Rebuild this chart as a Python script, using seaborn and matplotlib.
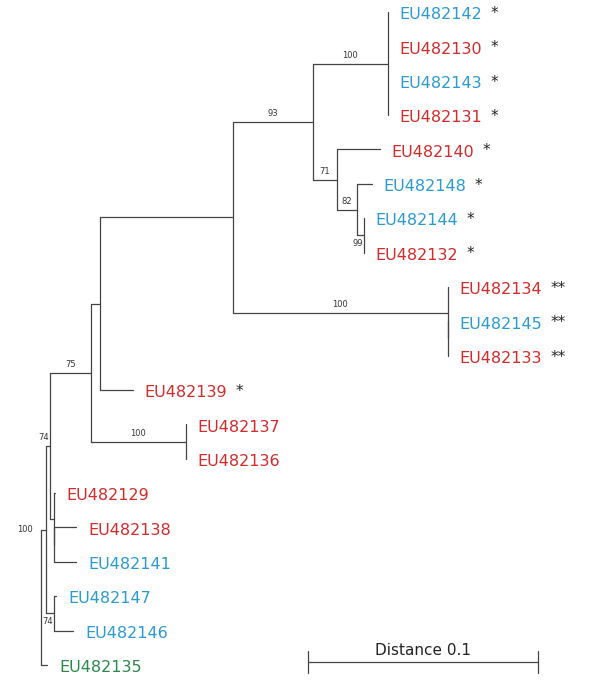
import pandas as pd
import numpy as np
import matplotlib
matplotlib.use("Agg")
from matplotlib import pyplot as plt
import seaborn as sns

# tree: every node with its parent and branch length (distance units)
node_names = ["R", "L", "J", "I", "H", "F", "E", "A",
              "EU482142", "EU482130", "EU482143", "EU482131",
              "B", "EU482140", "C", "EU482148", "D", "EU482144", "EU482132",
              "G", "EU482134", "G2", "EU482145", "EU482133",
              "EU482139", "N", "EU482137", "EU482136",
              "K", "EU482129", "K2", "EU482138", "EU482141",
              "M", "EU482147", "EU482146", "EU482135"]
node_parents = [None, "R", "L", "J", "I", "H", "F", "E",
                "A", "A", "A", "A",
                "E", "B", "B", "C", "C", "D", "D",
                "F", "G", "G", "G2", "G2",
                "H", "I", "N", "N",
                "J", "K", "K", "K2", "K2",
                "L", "M", "M", "R"]
branch_lengths = [0.0, 0.0022, 0.0017, 0.0178, 0.0039, 0.0578, 0.0348, 0.0326,
                  0.0, 0.0, 0.0, 0.0,
                  0.0104, 0.0187, 0.0087, 0.0065, 0.0030, 0.0, 0.0,
                  0.0935, 0.0, 0.0, 0.0, 0.0,
                  0.0143, 0.0413, 0.0, 0.0,
                  0.0017, 0.0004, 0.0, 0.0096, 0.0096,
                  0.0035, 0.0009, 0.0083, 0.0026]

# bootstrap support of internal nodes
support_nodes = ["A", "B", "C", "D", "G", "E", "N", "I", "J", "L", "M"]
support_values = [100, 71, 82, 99, 100, 93, 100, 75, 74, 100, 74]

# leaf groups and marks
leaf_names = ["EU482142", "EU482130", "EU482143", "EU482131", "EU482140",
              "EU482148", "EU482144", "EU482132", "EU482134", "EU482145",
              "EU482133", "EU482139", "EU482137", "EU482136", "EU482129",
              "EU482138", "EU482141", "EU482147", "EU482146", "EU482135"]
leaf_groups = ["blue", "red", "blue", "red", "red",
               "blue", "blue", "red", "red", "blue",
               "red", "red", "red", "red", "red",
               "red", "blue", "blue", "blue", "green"]
leaf_marks = ["*", "*", "*", "*", "*", "*", "*", "*", "**", "**",
              "**", "*", "", "", "", "", "", "", "", ""]

scale_length = 0.1
scale_label = "Distance 0.1"

group_colors = {"red": "#d42a2a", "blue": "#2a9ad4", "green": "#2a8a4a"}

# layout
children = {n: [] for n in node_names}
parent_of = dict(zip(node_names, node_parents))
blen = dict(zip(node_names, branch_lengths))
for n, p in zip(node_names, node_parents):
    if p is not None:
        children[p].append(n)

xpos, ypos = {}, {}
leaf_counter = [0]


def place(n, x0):
    xpos[n] = x0 + blen[n]
    if not children[n]:
        ypos[n] = leaf_counter[0]
        leaf_counter[0] += 1
        return
    for c in children[n]:
        place(c, xpos[n])
    ypos[n] = (ypos[children[n][0]] + ypos[children[n][-1]]) / 2


place("R", 0.0)

rows = []
seg = 0
for n in node_names:
    p = parent_of[n]
    if p is not None:
        rows += [(xpos[p], ypos[n], seg), (xpos[n], ypos[n], seg)]
        seg += 1
    if children[n]:
        c0, c1 = children[n][0], children[n][-1]
        rows += [(xpos[n], ypos[c0], seg), (xpos[n], ypos[c1], seg)]
        seg += 1
df = pd.DataFrame(rows, columns=["x", "y", "seg"])

sns.set_theme(style="white")
plt.rcParams["font.family"] = ["DejaVu Sans"]

fig = plt.figure(figsize=(6, 6.89), dpi=100)
ax = fig.add_axes([0, 0, 1, 1])
px = 2300.0
ax.set_xlim(-41 / px, 559 / px)
ax.set_ylim(19.70, -0.35)
ax.axis("off")

sns.lineplot(data=df, x="x", y="y", units="seg", estimator=None, sort=False,
             color="#444444", linewidth=0.9, ax=ax, legend=False)

for name, grp, mark in zip(leaf_names, leaf_groups, leaf_marks):
    t = ax.annotate(name, (xpos[name], ypos[name]), xytext=(8.6, -2),
                    textcoords="offset points", ha="left", va="center",
                    fontsize=11.5, color=group_colors[grp])
    if mark:
        ax.annotate(mark, xy=(1, 0.5), xycoords=t, xytext=(6, 1),
                    textcoords="offset points", ha="left", va="center",
                    fontsize=11, color="#222222")

placement = {"D": "below", "M": "below", "J": "right", "L": "left"}
for n, v in zip(support_nodes, support_values):
    p = parent_of[n]
    xm = (xpos[p] + xpos[n]) / 2
    how = placement.get(n, "above")
    if how == "above":
        ax.annotate(str(v), (xm, ypos[n]), xytext=(0, 2.5), textcoords="offset points",
                    ha="center", va="bottom", fontsize=6, color="#333333")
    elif how == "below":
        ax.annotate(str(v), (xm, ypos[n]), xytext=(-2, -2.5), textcoords="offset points",
                    ha="center", va="top", fontsize=6, color="#333333")
    elif how == "right":
        ax.annotate(str(v), (xpos[n], ypos[n]), xytext=(-1, 2.5), textcoords="offset points",
                    ha="right", va="bottom", fontsize=6, color="#333333")
    else:
        ax.annotate(str(v), (xpos[p], ypos[n]), xytext=(-6, 0), textcoords="offset points",
                    ha="right", va="center", fontsize=6, color="#333333")

# scale bar
x0 = (308 - 41) / px
ybar = 18.91
ax.plot([x0, x0 + scale_length], [ybar, ybar], color="#444444", lw=0.9)
for xe in (x0, x0 + scale_length):
    ax.plot([xe, xe], [ybar - 0.33, ybar + 0.33], color="#444444", lw=0.9)
ax.text(x0 + scale_length / 2, ybar - 0.32, scale_label, ha="center", va="center",
        fontsize=11, color="#222222")

fig.savefig("out.png", dpi=100)
